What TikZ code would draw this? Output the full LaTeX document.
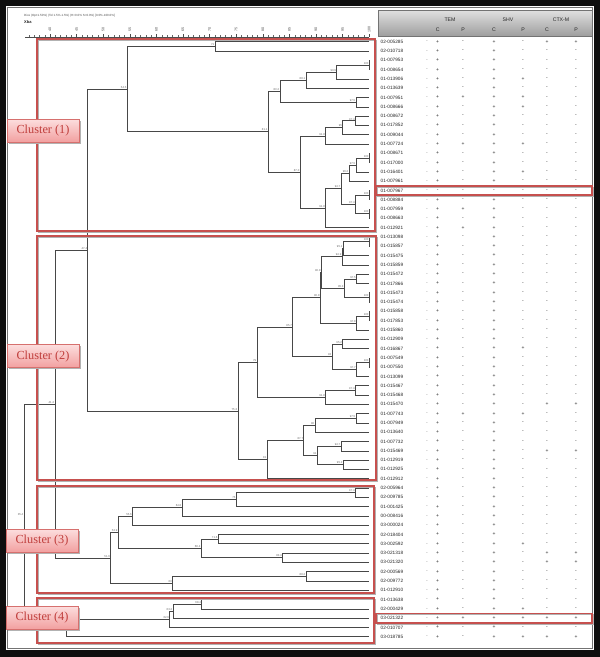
\documentclass[tikz,border=0pt]{standalone}
\usepackage{fontspec}
\setmainfont{Liberation Sans}
\newfontfamily\cluserif{Liberation Serif}
\usetikzlibrary{calc}
\definecolor{clred}{RGB}{198,80,78}
\definecolor{cltxt}{RGB}{192,62,60}
\definecolor{pinkA}{RGB}{252,222,222}
\definecolor{pinkB}{RGB}{242,160,160}
\definecolor{pinkD}{RGB}{214,112,110}
\definecolor{framek}{RGB}{14,14,14}
\newcommand\dnode[5]{%
  \path let \p1=($(#3)!0.5!(#4)$) in coordinate (#1) at ({(50+(#2-40)*5.32)*1pt},\y1);
  \draw[dl] (#1) |- (#3);
  \draw[dl] (#1) |- (#4);
  \node[nlab] (#1-l) at (#1) {#5};%
}
\newcommand\dnodenl[4]{%
  \path let \p1=($(#3)!0.5!(#4)$) in coordinate (#1) at ({(50+(#2-40)*5.32)*1pt},\y1);
  \draw[dl] (#1) |- (#3);
  \draw[dl] (#1) |- (#4);%
}
\begin{document}
\begin{tikzpicture}[x=1pt,y=-1pt,
  idt/.style={font=\fontsize{4.7}{5}\selectfont, text=black!85, anchor=west, inner sep=0pt},
  sg/.style={font=\fontsize{5}{5}\selectfont, text=black!85, inner sep=0pt},
  dl/.style={draw=black!72, line width=0.55pt},
  nlab/.style={font=\fontsize{2.8}{3}\selectfont, text=black!60, anchor=south east, inner sep=0.5pt},
  clbox/.style={top color=pinkA, bottom color=pinkB, draw=pinkD, line width=0.6pt},
  cltext/.style={font=\cluserif\fontsize{12.3}{13}\selectfont, text=cltxt, inner sep=0pt},
  redbox/.style={draw=clred, line width=1.6pt},
  shadowbox/.style={draw=black!30, line width=1.2pt},
  hdr/.style={font=\fontsize{5.2}{6}\selectfont, text=black!85, inner sep=0pt}]
\useasboundingbox (0,0) rectangle (600,657);
% frame
\fill[framek] (0,0) rectangle (600,657);
\fill[white] (6,6) rectangle (594,650);
\draw[black!55, line width=0.6pt] (7.5,7.5) rectangle (592.5,648.5);
% header box
\draw[top color=black!12, bottom color=black!38, draw=black!55, line width=0.5pt] (378,10) rectangle (592,36);
\node[hdr] (hTEM) at (450,20) {TEM};
\node[hdr] (hSHV) at (508,20) {SHV};
\node[hdr] (hCTX) at (561,20) {CTX-M};
\node[hdr] (hc1) at (437.7,29.5) {C};
\node[hdr] (hp1) at (463,29.5) {P};
\node[hdr] (hc2) at (494,29.5) {C};
\node[hdr] (hp2) at (523,29.5) {P};
\node[hdr] (hc3) at (547,29.5) {C};
\node[hdr] (hp3) at (576,29.5) {P};
% title text
\node[anchor=west, inner sep=0pt, font=\fontsize{3}{3}\selectfont, text=black!70] (title) at (24,16) {Dice (Opt:1.50\%) (Tol 1.5\%-1.5\%) (H>0.0\% S>0.0\%) [0.0\%-100.0\%]};
\node[anchor=west, inner sep=0pt, font=\bfseries\fontsize{4}{4}\selectfont, text=black!85] (xba) at (24,22.5) {Xba};
% axis
\draw[black!70, line width=0.4pt] (25,36.7) -- (369,36.7);
\foreach \v in {36,...,100} {\draw[black!60, line width=0.3pt] ({50+(\v-40)*5.32},36.7) -- ({50+(\v-40)*5.32},35.4);}
\foreach \v in {40,45,...,100} {
  \draw[black!70, line width=0.35pt] ({50+(\v-40)*5.32},36.7) -- ({50+(\v-40)*5.32},34.2);
  \node[rotate=90, inner sep=0pt, font=\fontsize{3.6}{4}\selectfont, text=black!70] (tk\v) at ({50+(\v-40)*5.32},29.5) {\v};
}
% leaves and table
\foreach \id/\a/\b/\c/\d/\e/\f [count=\i] in {
02-005285/+/-/+/-/+/+, 02-010718/+/-/+/-/-/-, 01-007953/+/-/+/-/-/-, 01-008654/+/-/+/-/-/-,
01-013906/+/-/+/+/-/-, 01-013639/+/-/+/-/-/-, 01-007951/+/+/+/+/-/-, 01-008666/+/-/+/+/-/-,
01-008672/+/-/+/-/-/-, 01-017852/+/-/+/-/-/-, 01-009044/+/-/+/-/-/-, 01-007724/+/+/+/+/-/-,
01-008671/+/-/+/-/-/-, 01-017000/+/-/+/-/-/-, 01-016401/+/-/+/+/-/-, 01-007961/+/-/+/-/-/-,
01-007967/-/-/-/-/-/-, 01-008884/+/-/+/-/-/-, 01-007959/+/+/+/-/-/-, 01-008663/+/-/+/-/-/-,
01-012921/+/+/+/-/-/-, 01-013098/+/-/+/-/-/-, 01-015857/+/-/+/-/-/-, 01-015475/+/-/+/-/-/-,
01-015859/+/-/+/-/-/-, 01-015472/+/-/+/-/-/-, 01-017866/+/-/+/-/-/-, 01-015473/+/-/+/-/-/-,
01-015474/+/-/+/-/-/-, 01-015858/+/-/+/-/-/-, 01-017853/+/-/+/-/-/-, 01-015860/+/-/+/-/-/-,
01-012909/+/-/+/-/-/-, 01-016867/+/-/+/+/-/-, 01-007549/+/-/+/-/-/-, 01-007550/+/-/+/-/-/-,
01-013099/+/-/+/-/-/-, 01-015467/+/-/+/-/-/-, 01-015468/+/-/+/-/-/-, 01-015470/+/-/+/-/+/+,
01-007743/+/+/+/+/-/-, 01-007949/+/-/+/-/-/-, 01-013640/+/-/+/-/-/-, 01-007732/+/-/+/-/-/-,
01-015469/+/-/+/-/+/+, 01-012919/+/-/+/-/-/-, 01-012925/+/-/+/-/-/-, 01-012912/+/-/+/-/-/-,
02-005964/+/-/+/-/-/-, 02-009785/+/-/+/-/-/-, 01-001425/+/-/+/-/-/-, 00-008416/+/-/+/-/-/-,
03-000024/+/-/+/-/-/-, 02-018404/+/-/+/-/-/-, 03-002592/+/-/+/+/-/-, 03-021318/+/-/+/-/+/+,
03-021320/+/-/+/-/+/+, 02-000569/+/-/+/-/-/-, 02-009772/+/-/+/-/-/-, 01-012910/+/-/+/-/-/-,
01-013638/+/-/+/-/-/-, 02-000429/+/-/+/+/-/-, 03-021322/+/+/+/+/+/+, 02-010707/+/-/+/-/-/-,
03-018785/+/-/+/+/+/+} {
  \pgfmathsetmacro\yy{41.7+(\i-1)*9.297}
  \coordinate (L\i) at (369,\yy);
  \node[idt] (id\i) at (380.5,\yy) {\id};
  \node[sg] (dt\i) at (427,\yy) {.};
  \node[sg] (ta\i) at (437.7,\yy) {\a};
  \node[sg] (tb\i) at (463,\yy) {\b};
  \node[sg] (sa\i) at (494,\yy) {\c};
  \node[sg] (sb\i) at (523,\yy) {\d};
  \node[sg] (ca\i) at (547,\yy) {\e};
  \node[sg] (cb\i) at (576,\yy) {\f};
}
% ---- cluster 1
\dnode{a12}{71}{L1}{L2}{71}
\dnode{a34}{100}{L3}{L4}{100}
\dnode{a345}{93.9}{a34}{L5}{93.9}
\dnode{a3456}{88.1}{a345}{L6}{88.1}
\dnode{a78}{97.5}{L7}{L8}{97.5}
\dnode{a38}{83.2}{a3456}{a78}{83.2}
\dnode{a910}{97.4}{L9}{L10}{97.4}
\dnode{a911}{95}{a910}{L11}{95}
\dnode{a912}{91.8}{a911}{L12}{91.8}
\dnode{a1314}{100}{L13}{L14}{100}
\dnode{a1315}{97.5}{a1314}{L15}{97.5}
\dnode{a1316}{96.2}{a1315}{L16}{96.2}
\dnode{a1718}{100}{L17}{L18}{100}
\dnode{a1920}{100}{L19}{L20}{100}
\dnode{a1720}{97.4}{a1718}{a1920}{97.4}
\dnode{a1320}{94.7}{a1316}{a1720}{94.7}
\dnode{a1321}{91.8}{a1320}{L21}{91.8}
\dnode{a921}{87}{a912}{a1321}{87.0}
\dnode{a321}{81}{a38}{a921}{81.1}
\dnode{c1}{54.5}{a12}{a321}{54.5}
% ---- cluster 2
\dnode{b2223}{100}{L22}{L23}{100}
\dnode{b2224}{95.1}{b2223}{L24}{95.1}
\dnode{b2225}{94.9}{b2224}{L25}{94.9}
\dnode{b2627}{97.6}{L26}{L27}{97.5}
\dnode{b2829}{100}{L28}{L29}{100}
\dnode{b2629}{95.3}{b2627}{b2829}{95.3}
\dnode{b2229}{91}{b2225}{b2629}{90.8}
\dnode{b3031}{100}{L30}{L31}{100}
\dnode{b3032}{97.6}{b3031}{L32}{97.8}
\dnode{b2232}{90.8}{b2229}{b3032}{90.8}
\dnode{b3334}{95}{L33}{L34}{95.2}
\dnode{b3536}{100}{L35}{L36}{100}
\dnode{b3537}{97.6}{b3536}{L37}{97.7}
\dnode{b3337}{93}{b3334}{b3537}{93}
\dnode{b2237}{85.6}{b2232}{b3337}{85.7}
\dnode{b3839}{97.4}{L38}{L39}{97.4}
\dnode{b3840}{91.8}{b3839}{L40}{91.8}
\dnode{b2240}{78.9}{b2237}{b3840}{79}
\dnode{b4142}{97.5}{L41}{L42}{97.5}
\dnode{b4143}{89.8}{b4142}{L43}{90}
\dnode{b4445}{94.7}{L44}{L45}{94.7}
\dnode{b4647}{95.1}{L46}{L47}{95.2}
\dnode{b4447}{90.2}{b4445}{b4647}{91}
\dnode{b4147}{87.7}{b4143}{b4447}{87.7}
\dnode{b4148}{80.8}{b4147}{L48}{81}
\dnode{c2}{75.3}{b2240}{b4148}{75.3}
% ---- cluster 3
\dnode{d4950}{97.4}{L49}{L50}{97.4}
\dnode{d4951}{75}{d4950}{L51}{75}
\dnode{d4952}{64.8}{d4951}{L52}{64.8}
\dnode{d4953}{55.5}{d4952}{L53}{55.6}
\dnode{d5455}{71.6}{L54}{L55}{71.6}
\dnode{d5657}{83.7}{L56}{L57}{83.4}
\dnode{d5457}{68.4}{d5455}{d5657}{68.4}
\dnode{d4957}{52.8}{d4953}{d5457}{52.9}
\dnode{d5859}{88.1}{L58}{L59}{88.2}
\dnode{d5860}{63}{d5859}{L60}{63}
\dnode{c3}{51.4}{d4957}{d5860}{51.6}
% ---- cluster 4
\dnode{e6162}{68.5}{L61}{L62}{68.4}
\dnode{e6163}{63.1}{e6162}{L63}{63.2}
\dnode{e6164}{62.5}{e6163}{L64}{62.6}
\dnodenl{c4}{43.1}{e6164}{L65}
% ---- top
\dnode{t12}{47.1}{c1}{c2}{47.4}
\dnode{t123}{40.9}{t12}{c3}{41.2}
\dnode{root}{35.1}{t123}{c4}{35.4}
% cluster boxes
\foreach \xa/\ya/\xb/\yb in {37/39/375/231, 37/236/376/480, 37/486/374/593, 37/598/374/643} {
  \draw[shadowbox] (\xa+1.3,\ya+1.3) rectangle (\xb+1.3,\yb+1.3);
  \draw[redbox] (\xa,\ya) rectangle (\xb,\yb);
}
% row highlights
\foreach \r in {17,63} {
  \pgfmathsetmacro\yy{41.7+(\r-1)*9.297}
  \draw[shadowbox] (377.3,\yy-3.3) rectangle (593.3,\yy+5.9);
  \draw[redbox] (376,\yy-4.6) rectangle (592,\yy+4.6);
}
% cluster labels
\foreach \n/\xa/\ya in {1/7/119, 2/7/344.5, 3/6/529, 4/6/606} {
  \fill[black!30] (\xa+1.6,\ya+1.6) rectangle (\xa+73.6,\ya+24.6);
  \draw[clbox] (\xa,\ya) rectangle (\xa+72,\ya+23);
  \node[cltext] (cl\n) at (\xa+36,\ya+11.8) {Cluster (\n)};
}
\end{tikzpicture}
\end{document}
